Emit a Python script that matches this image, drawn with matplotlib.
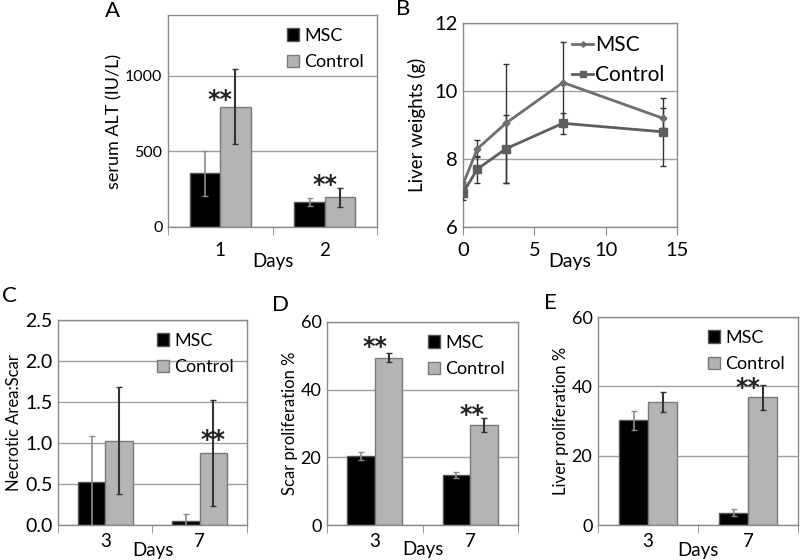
import matplotlib
matplotlib.use("Agg")
import matplotlib.pyplot as plt
import matplotlib.transforms as mtransforms
import numpy as np

plt.rcParams['font.family'] = ['Lato', 'DejaVu Sans']

# ---- data ----
a_days = ['1', '2']
a_msc = [355, 165]
a_msc_err = [150, 28]
a_ctl = [795, 195]
a_ctl_err = [250, 60]

b_days = [0, 1, 3, 7, 14]
b_msc = [7.25, 8.3, 9.05, 10.25, 9.2]
b_msc_err = [0.08, 0.25, 1.75, 1.2, 0.3]
b_ctl = [7.0, 7.7, 8.3, 9.05, 8.8]
b_ctl_err = [0.2, 0.4, 1.0, 0.3, 1.0]

c_days = ['3', '7']
c_msc = [0.52, 0.05]
c_msc_err = [0.56, 0.08]
c_ctl = [1.03, 0.88]
c_ctl_err = [0.65, 0.65]

d_days = ['3', '7']
d_msc = [20.5, 14.8]
d_msc_err = [1.2, 1.0]
d_ctl = [49.5, 29.5]
d_ctl_err = [1.2, 2.0]

e_days = ['3', '7']
e_msc = [30.2, 3.5]
e_msc_err = [2.7, 1.0]
e_ctl = [35.5, 36.8]
e_ctl_err = [3.0, 3.7]

W, H = 800, 560
fig = plt.figure(figsize=(8, 5.6), dpi=100)

def box(l, t, r, b):
    return [l / W, 1 - b / H, (r - l) / W, (b - t) / H]

EDGE = '#8a8a8a'
GRID = '#a0a0a0'

def style(ax, tsize):
    for s in ax.spines.values():
        s.set_color(EDGE)
        s.set_linewidth(1)
    ax.grid(axis='y', color=GRID, linewidth=1)
    ax.set_axisbelow(True)
    ax.tick_params(axis='y', length=0, labelsize=tsize, pad=4)
    ax.tick_params(axis='x', labelsize=tsize)

def stars(ax, xs, ys):
    # '**' marks, centred on (x, y) in data units
    tr = mtransforms.offset_copy(ax.transData, fig=fig, y=-9, units='points')
    for xv, yv in zip(xs, ys):
        ax.text(xv, yv, '**', ha='center', va='baseline', fontsize=17,
                fontweight='bold', family='DejaVu Sans', color='#222222',
                transform=tr)

def bar_panel(ax, cats, msc, msc_err, ctl, ctl_err, ylim, yticks, yfmt,
              ylabel, tsize, xsize, lsize, ysize, days_y, xpad):
    x = np.arange(len(cats))
    w = 0.29
    ax.bar(x - w / 2, msc, w, color='black', edgecolor='#555555', linewidth=1,
           label='MSC', zorder=2)
    ax.bar(x + w / 2, ctl, w, color='#b4b4b4', edgecolor='#7a7a7a', linewidth=1,
           label='Control', zorder=2)
    ax.errorbar(x - w / 2, msc, yerr=msc_err, fmt='none', ecolor='#8c8c8c',
                elinewidth=1.2, capsize=2.5, zorder=3)
    ax.errorbar(x + w / 2, ctl, yerr=ctl_err, fmt='none', ecolor='#333333',
                elinewidth=1.5, capsize=2.5, zorder=3)
    ax.set_xlim(-0.5, len(cats) - 0.5)
    ax.set_ylim(*ylim)
    ax.set_yticks(yticks)
    ax.set_yticklabels([yfmt.format(v) for v in yticks])
    ax.set_xticks(x)
    ax.set_xticklabels(cats)
    ax.set_xticks(np.arange(-0.5, len(cats)), minor=True)
    style(ax, tsize)
    ax.tick_params(axis='x', which='major', length=0, pad=xpad, labelsize=xsize)
    ax.tick_params(axis='x', which='minor', length=6, color=EDGE, direction='out')
    ax.set_ylabel(ylabel, fontsize=ysize, labelpad=2)
    ax.legend(loc='upper right', frameon=False, fontsize=lsize, handlelength=0.7,
              handleheight=0.7, handletextpad=0.3, labelspacing=0.6,
              borderaxespad=0.3)
    ax.text(0.5, days_y, 'Days', transform=ax.transAxes, ha='center',
            va='center', fontsize=xsize)
    return x

# A
axA = fig.add_axes(box(168, 15, 377, 227))
xa = bar_panel(axA, a_days, a_msc, a_msc_err, a_ctl, a_ctl_err, (0, 1400),
               [0, 500, 1000], '{:d}', 'serum ALT (IU/L)', 11.5, 13.5, 13, 13,
               -0.165, 11)
stars(axA, [xa[0], xa[1]], [874, 311])
fig.text(105 / W, 1 - 11 / H, 'A', fontsize=16, ha='left', va='center')

# B
axB = fig.add_axes(box(463, 23, 677, 227))
eb_msc = axB.errorbar(b_days, b_msc, yerr=b_msc_err, color='#6e6e6e',
                      ecolor='#333333', elinewidth=1, capsize=2, marker='D',
                      markersize=3.5, linewidth=2, zorder=3)
eb_ctl = axB.errorbar(b_days, b_ctl, yerr=b_ctl_err, color='#5e5e5e',
                      ecolor='#333333', elinewidth=1, capsize=2, marker='s',
                      markersize=6, linewidth=2, zorder=3)
axB.set_xlim(0, 15)
axB.set_ylim(6, 12)
axB.set_xticks([0, 5, 10, 15])
axB.set_yticks([6, 8, 10, 12])
style(axB, 14.5)
axB.tick_params(axis='x', length=6, color=EDGE, direction='out', pad=5)
axB.set_ylabel('Liver weights (g)', fontsize=13.5, labelpad=6)
axB.text(0.5, -0.17, 'Days', transform=axB.transAxes, ha='center',
         va='center', fontsize=14)
axB.legend([eb_msc[0], eb_ctl[0]], ['MSC', 'Control'], loc='upper right',
           frameon=False, fontsize=15, handlelength=1.0, handletextpad=0.1,
           labelspacing=0.45, borderaxespad=0.2, markerscale=0.8)
fig.text(396 / W, 1 - 9 / H, 'B', fontsize=16, ha='left', va='center')

# C
axC = fig.add_axes(box(58, 320, 247, 525))
xc = bar_panel(axC, c_days, c_msc, c_msc_err, c_ctl, c_ctl_err, (0, 2.5),
               [0, 0.5, 1.0, 1.5, 2.0, 2.5], '{:.1f}', 'Necrotic Area:Scar',
               14, 13.5, 13, 12, -0.122, 6)
stars(axC, [xc[1] + 0.14], [1.10])
fig.text(2 / W, 1 - 296 / H, 'C', fontsize=16, ha='left', va='center')

# D
axD = fig.add_axes(box(327, 322, 518, 525))
xd = bar_panel(axD, d_days, d_msc, d_msc_err, d_ctl, d_ctl_err, (0, 60),
               [0, 20, 40, 60], '{:d}', 'Scar proliferation %', 13, 13.5, 13,
               12, -0.122, 6)
stars(axD, [xd[0], xd[1] + 0.02], [54.1, 34])
fig.text(272 / W, 1 - 305 / H, 'D', fontsize=16, ha='left', va='center')

# E
axE = fig.add_axes(box(598, 317, 798, 525))
xe = bar_panel(axE, e_days, e_msc, e_msc_err, e_ctl, e_ctl_err, (0, 60),
               [0, 20, 40, 60], '{:d}', 'Liver proliferation %', 13, 13.5, 13,
               12, -0.122, 6)
stars(axE, [xe[1]], [41])
fig.text(544 / W, 1 - 303 / H, 'E', fontsize=16, ha='left', va='center')

fig.savefig('out.png', dpi=100)
